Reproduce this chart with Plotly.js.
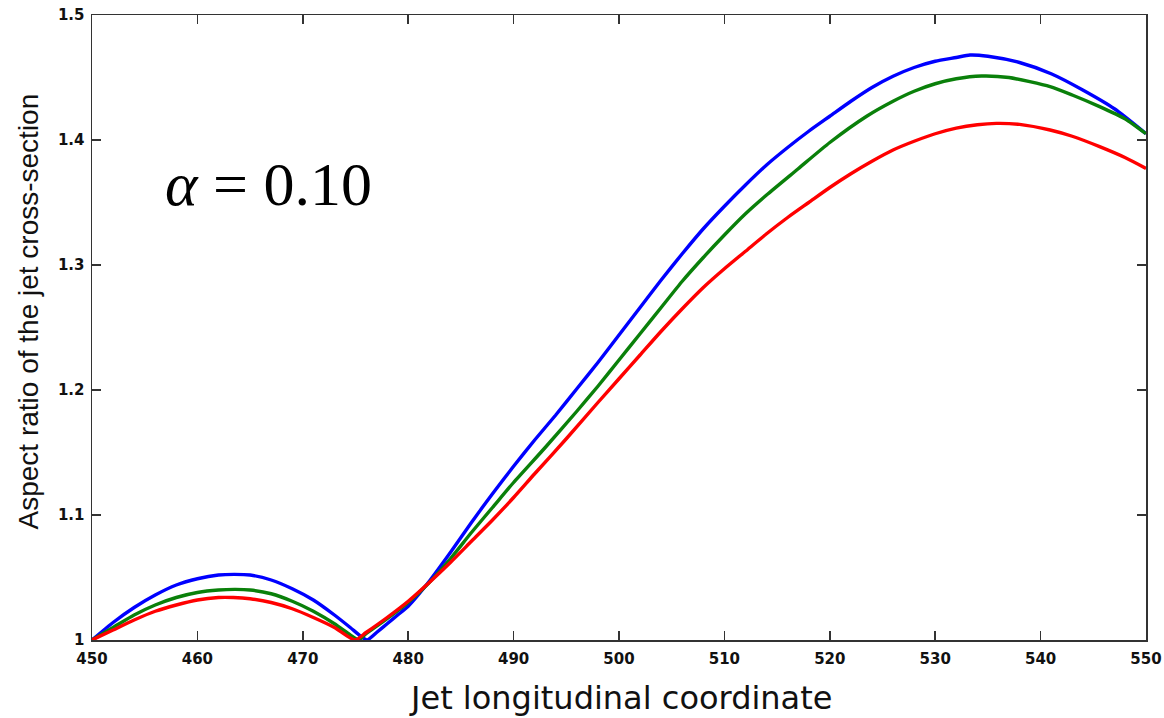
<!DOCTYPE html>
<html>
<head>
<meta charset="utf-8">
<script src="https://cdn.plot.ly/plotly-3.0.1.min.js"></script>
<style>html,body{margin:0;padding:0;background:#fff;}#chart{width:1164px;height:718px;}</style>
</head>
<body>
<div id="chart"></div>
<script>
// Blue curve
const blueX = [450,452,454,456,458,460,462,463.5,465,467,469,471,473,474.5,475.5,476.1,477,478,479,480,482,484,486,488,490,492,494,496,498,500,502,504,506,508,510,512,514,516,518,520,522,524,526,528,530,532,533.3,535,538,541,544,547,550];
const blueY = [1.000,1.014,1.026,1.036,1.044,1.049,1.052,1.0525,1.052,1.048,1.041,1.032,1.020,1.010,1.003,1.000,1.006,1.013,1.020,1.027,1.047,1.070,1.094,1.117,1.139,1.160,1.180,1.201,1.222,1.244,1.266,1.288,1.309,1.329,1.347,1.364,1.380,1.394,1.407,1.419,1.431,1.442,1.451,1.458,1.463,1.466,1.468,1.467,1.462,1.453,1.440,1.425,1.405];

// Green curve
const greenX = [450,452,454,456,458,460,462,463.6,465,467,469,471,473,474.5,475.3,476,478,480,482,484,486,488,490,493,496,498,500,502,504,506,508,510,512,514,517,520,523.5,526,528,530,532,534.4,537,540.9,543,545.6,548,550];
const greenY = [1.000,1.010,1.020,1.028,1.034,1.038,1.040,1.0405,1.040,1.037,1.031,1.023,1.013,1.004,1.000,1.005,1.017,1.030,1.046,1.065,1.086,1.106,1.126,1.154,1.183,1.203,1.224,1.245,1.266,1.287,1.306,1.324,1.341,1.356,1.377,1.398,1.419,1.431,1.439,1.445,1.449,1.4512,1.450,1.4427,1.436,1.4267,1.417,1.405];

// Red curve
const redX = [450,452,454,456,458,460,462,463.4,465,467,469,471,473,474.95,476,478,480,482,484,486,488,490,492,495,498,500,502,504,506,508,510,512,514,516,518,520,522,524,526,528,530,532,534,535.8,538,540.9,543,545.6,548,550];
const redY = [1.000,1.008,1.016,1.023,1.028,1.032,1.034,1.034,1.033,1.030,1.025,1.018,1.010,1.000,1.006,1.018,1.031,1.046,1.062,1.079,1.096,1.114,1.133,1.161,1.190,1.209,1.228,1.247,1.265,1.282,1.297,1.311,1.325,1.338,1.350,1.362,1.373,1.383,1.392,1.399,1.405,1.4095,1.4122,1.4133,1.4125,1.408,1.403,1.3947,1.386,1.3773];

const xTicks = [450,460,470,480,490,500,510,520,530,540,550];
const yTicks = [1,1.1,1.2,1.3,1.4,1.5];
const yTickText = ['1','1.1','1.2','1.3','1.4','1.5'];

const traces = [
  {x: blueX, y: blueY, mode: 'lines', line: {color: '#0000ff', width: 3.4, shape: 'spline', smoothing: 0.6}, hoverinfo: 'skip'},
  {x: greenX, y: greenY, mode: 'lines', line: {color: '#0a800a', width: 3.4, shape: 'spline', smoothing: 0.6}, hoverinfo: 'skip'},
  {x: redX, y: redY, mode: 'lines', line: {color: '#ff0000', width: 3.4, shape: 'spline', smoothing: 0.6}, hoverinfo: 'skip'}
];

const tickFont = {family: 'DejaVu Sans, sans-serif', size: 15, color: '#111', weight: 'bold'};

const layout = {
  width: 1164, height: 718,
  margin: {l: 92, r: 18, t: 15, b: 78},
  paper_bgcolor: '#fff', plot_bgcolor: '#fff',
  showlegend: false,
  xaxis: {
    range: [450, 550], tickvals: xTicks, ticktext: xTicks.map(String),
    ticks: 'inside', ticklen: 9, tickwidth: 1.5, tickcolor: '#333',
    showline: true, linecolor: '#333', linewidth: 1.5, mirror: 'allticks',
    showgrid: false, zeroline: false, tickfont: tickFont, ticklabelstandoff: 4
  },
  yaxis: {
    range: [1, 1.5], tickvals: yTicks, ticktext: yTickText,
    ticks: 'inside', ticklen: 9, tickwidth: 1.5, tickcolor: '#333',
    showline: true, linecolor: '#333', linewidth: 1.5, mirror: 'allticks',
    showgrid: false, zeroline: false, tickfont: tickFont, ticklabelstandoff: 3
  },
  annotations: [
    {x: 0.501, y: -0.093, xref: 'paper', yref: 'paper', xanchor: 'center', yanchor: 'middle', showarrow: false,
     text: 'Jet longitudinal coordinate', font: {family: 'DejaVu Sans, sans-serif', size: 32, color: '#111'}},
    {x: -0.0605, y: 0.526, xref: 'paper', yref: 'paper', xanchor: 'center', yanchor: 'middle', showarrow: false, textangle: -90,
     text: 'Aspect ratio of the jet cross-section', font: {family: 'Liberation Sans Narrow, Arial Narrow, sans-serif', size: 28, color: '#111'}},
    {x: 0.067, y: 0.73, xref: 'paper', yref: 'paper', xanchor: 'left', yanchor: 'middle', showarrow: false,
     text: '<i>α</i> = 0.10', font: {family: 'Liberation Serif, Times New Roman, serif', size: 62, color: '#000'}}
  ]
};

Plotly.newPlot('chart', traces, layout, {staticPlot: true, displayModeBar: false});
</script>
</body>
</html>
